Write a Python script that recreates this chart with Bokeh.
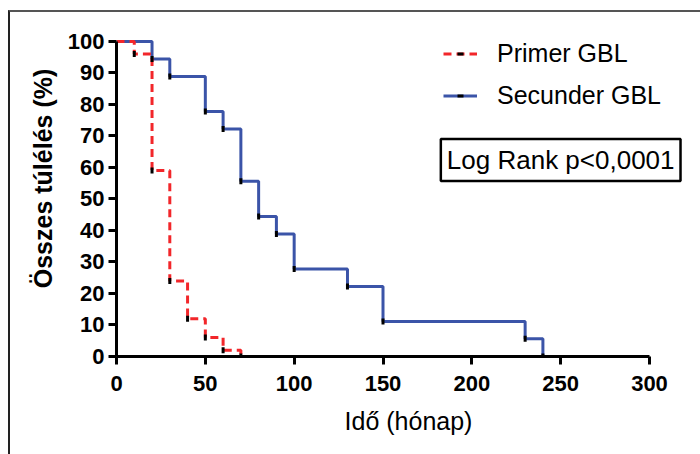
import numpy as np
from bokeh.plotting import figure
from bokeh.models import Range1d, Legend, LegendItem, Label, InlineStyleSheet
from bokeh.embed import file_html
from bokeh.resources import INLINE

# Kaplan-Meier steps (time in months, survival in %)
primer_time = [0, 10, 20, 30, 40, 50, 60, 70]
primer_surv = [100, 96, 59, 24, 12, 6, 2, 0]

secunder_time = [0, 20, 30, 50, 60, 70, 80, 90, 100, 130, 150, 230, 240]
secunder_surv = [100, 94.4, 88.9, 77.8, 72.2, 55.6, 44.4, 38.9, 27.8, 22.2, 11.1, 5.6, 0]

series_names = ["Primer GBL", "Secunder GBL"]
x_ticks = [0, 50, 100, 150, 200, 250, 300]
y_ticks = [0, 10, 20, 30, 40, 50, 60, 70, 80, 90, 100]
stat_text = "Log Rank p<0,0001"

RED = "#F2262A"
BLUE = "#3B54A8"
FONT = "Liberation Sans"

# the plotting area runs to the right and top edges so the legend and the
# statistics box have room; the axes themselves stop at 300 and 100
p = figure(
    width=700, height=454,
    output_backend="svg", toolbar_location=None,
    x_range=Range1d(0, 328.7), y_range=Range1d(0, 113.0),
    min_border_left=116, min_border_right=0,
    min_border_top=0, min_border_bottom=98,
)
p.xgrid.visible = False
p.ygrid.visible = False
p.outline_line_color = None

# curves: secondary first so the dashed primary sits on top
blue_line = p.step(secunder_time, secunder_surv, mode="after",
                   line_color=BLUE, line_width=3)
red_line = p.step(primer_time, primer_surv, mode="after",
                  line_color=RED, line_width=3, line_dash="8 5")

# small black marks at every step
blue_ticks = p.scatter(secunder_time[1:], secunder_surv[1:], marker="dash",
                       angle=np.pi / 2, size=6, line_color="black", line_width=3)
red_ticks = p.scatter(primer_time[1:], primer_surv[1:], marker="dash",
                      angle=np.pi / 2, size=6, line_color="black", line_width=3)

# axes
for ax in (p.xaxis, p.yaxis):
    ax.axis_line_width = 3
    ax.axis_line_color = "black"
    ax.major_tick_line_width = 3
    ax.major_tick_line_color = "black"
    ax.major_tick_out = 8
    ax.major_tick_in = 0
    ax.minor_tick_out = 0
    ax.minor_tick_in = 0
    ax.major_label_text_font = FONT
    ax.major_label_text_font_style = "bold"
    ax.major_label_text_font_size = "22px"
    ax.major_label_text_color = "black"
    ax.axis_label_text_font = FONT
    ax.axis_label_text_color = "black"

p.xaxis.ticker = x_ticks
p.yaxis.ticker = y_ticks
p.xaxis.bounds = (0, 300)
p.yaxis.bounds = (0, 100)
p.xaxis.major_label_standoff = 11
p.yaxis.major_label_standoff = 4

p.xaxis.axis_label = "Idő (hónap)"
p.xaxis.axis_label_text_font_style = "normal"
p.xaxis.axis_label_text_font_size = "25px"
p.xaxis.axis_label_standoff = 13

p.yaxis.axis_label = "Összes túlélés (%)"
p.yaxis.axis_label_text_font_style = "bold"
p.yaxis.axis_label_text_font_size = "25px"
p.yaxis.axis_label_standoff = 8

legend = Legend(
    items=[
        LegendItem(label=series_names[0], renderers=[red_line, red_ticks]),
        LegendItem(label=series_names[1], renderers=[blue_line, blue_ticks]),
    ],
    location=(327, 246),
    orientation="vertical",
    glyph_width=34, glyph_height=15,
    label_height=30, label_standoff=20,
    spacing=12, padding=0, margin=0,
    border_line_color=None, background_fill_alpha=0,
    label_text_font=FONT, label_text_font_size="25px",
    label_text_color="black",
)
p.add_layout(legend)

stat = Label(
    x=250, y=62.4, text=stat_text,
    text_align="center", text_baseline="middle",
    text_font=FONT, text_font_size="26px", text_color="black",
    border_line_color="black", border_line_width=2.5,
    background_fill_color="white", padding=6,
)
p.add_layout(stat)

# page frame along the top and left edges
p.stylesheets = [InlineStyleSheet(css="""
:host { position: relative; }
:host::after {
  content: "";
  position: absolute;
  left: 8px; top: 10px; right: -20px; bottom: -20px;
  border-left: 2px solid #222222;
  border-top: 2px solid #555555;
  pointer-events: none;
}
""")]

open("out.html", "w").write(file_html(p, INLINE))
